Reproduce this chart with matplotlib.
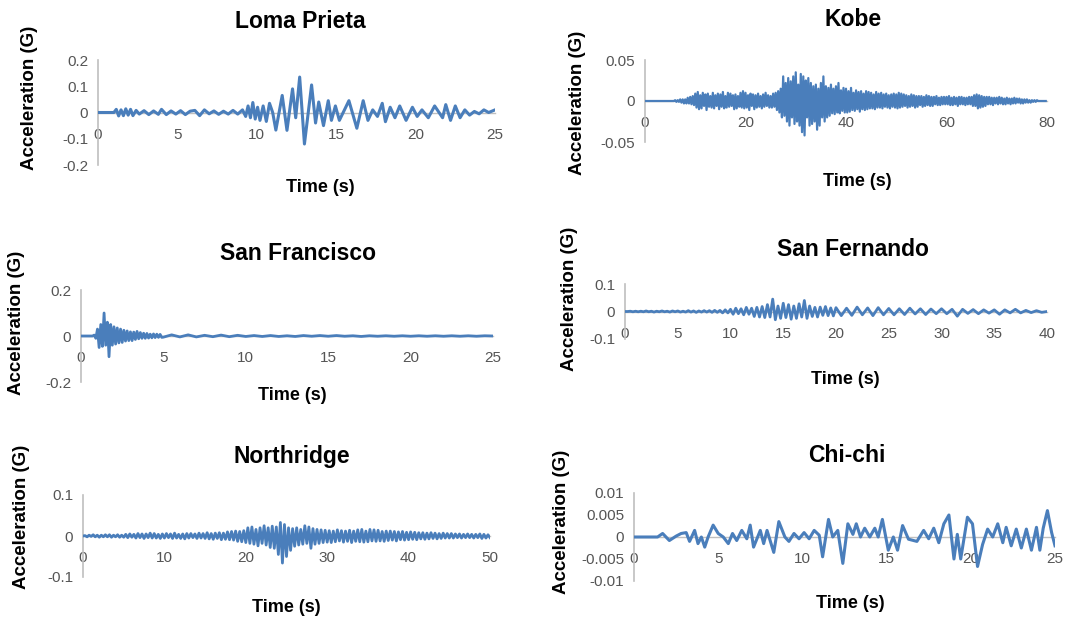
import numpy as np
import matplotlib
matplotlib.use("Agg")
from matplotlib import pyplot as plt

plt.rcParams['font.family'] = ['Liberation Sans', 'DejaVu Sans']

# ---- data (acceleration in G, time in s) ----

loma_t = [0, 1.0, 1.15, 1.3, 1.45, 1.6, 1.75, 1.9, 2.05, 2.2,
          2.4, 2.6, 2.9, 3.2, 3.5, 3.8, 4.0, 4.3, 4.6, 4.9,
          5.2, 5.5, 5.8, 6.1, 6.4, 6.7, 7.0, 7.3, 7.6, 7.9,
          8.2, 8.5, 8.8, 9.1, 9.3, 9.45, 9.6, 9.75, 9.9, 10.05,
          10.2, 10.4, 10.6, 10.8, 11.0, 11.2, 11.6, 11.9, 12.25, 12.45,
          12.7, 13.0, 13.45, 13.7, 13.9, 14.2, 14.5, 14.7, 14.95, 15.2,
          15.8, 16.3, 16.7, 17.0, 17.3, 17.6, 17.9, 18.1, 18.4, 18.7,
          19.0, 19.4, 19.8, 20.1, 20.4, 20.8, 21.2, 21.7, 21.9, 22.2,
          22.5, 22.8, 23.1, 23.4, 23.7, 24.0, 24.3, 24.6, 25.0]
loma_a = [0, 0, 0.012, -0.013, 0.01, -0.012, 0.014, -0.01, 0.012, -0.012,
          0.008, -0.006, 0.007, -0.008, 0.006, -0.007, 0.012, -0.008, 0.006, -0.006,
          0.007, -0.008, 0.005, 0.008, -0.012, 0.01, -0.005, 0.006, -0.007, 0.005,
          -0.006, 0.008, -0.006, 0.01, -0.015, 0.025, -0.02, 0.038, -0.025, 0.02,
          -0.03, 0.025, -0.034, 0.035, 0.0, -0.067, 0.065, -0.068, 0.09, -0.02,
          0.135, -0.12, 0.105, -0.04, 0.04, -0.05, 0.045, -0.03, 0.025, -0.03,
          0.045, -0.06, 0.045, -0.03, 0.01, -0.015, 0.035, -0.035, 0.02, -0.02,
          0.025, -0.03, 0.02, -0.015, 0.01, -0.02, 0.025, -0.02, 0.03, -0.03,
          0.025, -0.02, 0.01, -0.01, 0.004, -0.005, 0.01, 0.0, 0.01]

# Kobe, one value every 0.25 s (rows of 5 s)
kobe_a = [0, 0, 0, 0, 0, 0, 0, 0, 0, 0, 0, 0, 0, 0, 0, 0, 0, 0, 0, 0,
          0, 0, 0, 0, 0.001, -0.001, 0.001, -0.001, 0.002, -0.002,
          0.002, -0.003, 0.002, -0.003, 0.004, -0.003, 0.005, -0.004, 0.006, -0.005,
          0.009, -0.008, 0.011, -0.01, 0.007, -0.009, 0.01, -0.006, 0.008, -0.011,
          0.009, -0.007, 0.006, -0.008, 0.01, -0.009, 0.007, -0.006, 0.009, -0.01,
          0.008, -0.007, 0.011, -0.009, 0.006, -0.008, 0.01, -0.007, 0.009, -0.006,
          0.007, -0.01, 0.008, -0.009, 0.006, -0.007, 0.01, -0.008, 0.012, -0.009,
          0.01, -0.008, 0.007, -0.011, 0.009, -0.006, 0.008, -0.01, 0.007, -0.008,
          0.009, -0.007, 0.006, -0.009, 0.008, -0.007, 0.01, -0.006, 0.007, -0.008,
          0.006, -0.008, 0.009, -0.007, 0.01, -0.011, 0.012, -0.014, 0.015, -0.02,
          0.03, -0.018, 0.022, -0.025, 0.028, -0.03, 0.024, -0.02, 0.03, -0.028,
          0.035, -0.025, 0.02, -0.03, 0.033, -0.038, 0.03, -0.042, 0.025, -0.02,
          0.028, -0.03, 0.022, -0.028, 0.018, -0.025, 0.02, -0.035, 0.015, -0.03,
          0.022, -0.02, 0.03, -0.025, 0.018, -0.02, 0.016, -0.018, 0.02, -0.015,
          0.015, -0.016, 0.018, -0.014, 0.022, -0.015, 0.013, -0.012, 0.016, -0.014,
          0.015, -0.014, 0.012, -0.013, 0.016, -0.011, 0.01, -0.012, 0.013, -0.01,
          0.011, -0.013, 0.012, -0.01, 0.009, -0.011, 0.012, -0.01, 0.011, -0.009,
          0.01, -0.009, 0.008, -0.01, 0.011, -0.008, 0.009, -0.008, 0.01, -0.009,
          0.008, -0.007, 0.009, -0.008, 0.007, -0.009, 0.008, -0.007, 0.009, -0.008,
          0.008, -0.009, 0.01, -0.008, 0.009, -0.007, 0.008, -0.006, 0.007, -0.008,
          0.006, -0.007, 0.008, -0.006, 0.007, -0.008, 0.006, -0.007, 0.006, -0.005,
          0.006, -0.007, 0.005, -0.006, 0.007, -0.005, 0.006, -0.006, 0.005, -0.006,
          0.005, -0.004, 0.006, -0.005, 0.004, -0.005, 0.005, -0.004, 0.005, -0.004,
          0.005, -0.004, 0.006, -0.005, 0.004, -0.005, 0.005, -0.004, 0.004, -0.006,
          0.005, -0.004, 0.005, -0.004, 0.004, -0.005, 0.004, -0.004, 0.005, -0.004,
          0.005, -0.006, 0.007, -0.006, 0.008, -0.009, 0.007, -0.008, 0.006, -0.007,
          0.005, -0.006, 0.005, -0.004, 0.005, -0.004, 0.004, -0.005, 0.004, -0.003,
          0.004, -0.004, 0.005, -0.003, 0.004, -0.004, 0.003, -0.004, 0.004, -0.003,
          0.003, -0.004, 0.003, -0.003, 0.004, -0.003, 0.003, -0.002, 0.003, -0.003,
          0.002, -0.003, 0.002, -0.002, 0.002, -0.002, 0.001, -0.002, 0.001, -0.001,
          0.001, -0.001, 0.001, 0, 0, 0, 0, 0, 0, 0]
kobe_t = np.arange(len(kobe_a)) * 0.25

# San Francisco: 0.1 s steps up to 5 s, then 0.5 s steps
sanfran_t = np.r_[np.arange(0, 5, 0.1), np.arange(5, 25.01, 0.5)]
sanfran_a = [0, 0, 0, 0, 0, 0, 0, 0, 0.004, -0.01,
             0.03, -0.05, 0.05, -0.045, 0.1, -0.04, 0.06, -0.09, 0.05, -0.04,
             0.04, -0.035, 0.035, -0.03, 0.03, -0.028, 0.025, -0.022, 0.022, -0.02,
             0.018, -0.02, 0.017, -0.015, 0.02, -0.012, 0.015, -0.01, 0.012, -0.01,
             0.011, -0.009, 0.008, -0.008, 0.009, -0.007, 0.008, -0.006, 0.007, -0.006,
             -0.005, 0.005, -0.004, 0.005, -0.004, 0.003, -0.003, 0.004, -0.003, 0.003,
             -0.002, 0.002, -0.002, 0.002, -0.002, 0.001, -0.002, 0.002, -0.001, 0.002,
             -0.001, 0.002, -0.001, 0.001, -0.002, 0.001, -0.001, 0.001, -0.001, 0.001,
             -0.001, 0.001, -0.001, 0.001, -0.001, 0.001, -0.001, 0.001, -0.001, 0.001,
             0]

# San Fernando: 0.25 s steps up to 20 s, then 0.5 s steps
fernando_t = np.r_[np.arange(0, 20, 0.25), np.arange(20, 40.01, 0.5)]
fernando_a = [0, 0, 0.001, -0.001, 0.001, -0.001, 0.001, -0.001, 0.002, -0.001,
              0.001, -0.002, 0.001, -0.001, 0.002, -0.001, 0.001, -0.002, 0.002, -0.001,
              0.002, -0.002, 0.001, -0.002, 0.003, -0.002, 0.002, -0.003, 0.002, -0.002,
              0.003, -0.002, 0.003, -0.003, 0.004, -0.003, 0.004, -0.005, 0.006, -0.005,
              0.008, -0.01, 0.012, -0.008, 0.01, -0.012, 0.015, -0.01, 0.012, -0.018,
              0.015, -0.02, 0.018, -0.022, 0.025, -0.02, 0.045, -0.03, 0.02, -0.025,
              0.03, -0.022, 0.025, -0.028, 0.02, -0.025, 0.028, -0.02, 0.04, -0.025,
              0.02, -0.018, 0.015, -0.02, 0.016, -0.014, 0.018, -0.015, 0.013, -0.016,
              0.014, -0.015, 0.012, -0.014, 0.016, -0.012, 0.013, -0.015, 0.014, -0.012,
              0.011, -0.012, 0.01, -0.011, 0.012, -0.009, 0.01, -0.011, 0.009, -0.008,
              0.01, -0.008, 0.008, -0.017, 0.008, -0.007, 0.007, -0.008, 0.006, -0.006,
              0.006, -0.01, 0.006, -0.005, 0.008, -0.005, 0.004, -0.004, 0.003, -0.003,
              0]

# Northridge, one value every 0.25 s (rows of 5 s)
north_a = [0, 0.001, -0.002, 0.002, -0.001, 0.003, -0.002, 0.002, -0.003, 0.002,
           -0.002, 0.003, -0.002, 0.003, -0.003, 0.002, -0.002, 0.003, -0.003, 0.002,
           -0.003, 0.004, -0.004, 0.005, -0.003, 0.004, -0.005, 0.006, -0.004, 0.005,
           -0.006, 0.005, -0.004, 0.007, -0.005, 0.006, -0.005, 0.004, -0.006, 0.005,
           -0.005, 0.006, -0.004, 0.005, -0.006, 0.007, -0.005, 0.004, -0.006, 0.005,
           -0.007, 0.006, -0.005, 0.006, -0.004, 0.005, -0.006, 0.007, -0.005, 0.006,
           -0.006, 0.008, -0.007, 0.006, -0.008, 0.007, -0.006, 0.008, -0.009, 0.007,
           -0.008, 0.01, -0.009, 0.011, -0.01, 0.012, -0.013, 0.011, -0.014, 0.013,
           -0.016, 0.02, -0.018, 0.022, -0.02, 0.016, -0.024, 0.02, -0.018, 0.025,
           -0.022, 0.02, -0.028, 0.024, -0.03, 0.022, -0.045, 0.033, -0.066, 0.028,
           -0.05, 0.02, -0.035, 0.018, -0.025, 0.02, -0.022, 0.016, -0.02, 0.025,
           -0.018, 0.022, -0.03, 0.018, -0.02, 0.016, -0.018, 0.015, -0.016, 0.014,
           -0.015, 0.013, -0.016, 0.012, -0.014, 0.015, -0.012, 0.013, -0.015, 0.012,
           -0.013, 0.014, -0.016, 0.012, -0.013, 0.015, -0.014, 0.016, -0.015, 0.012,
           -0.014, 0.016, -0.012, 0.015, -0.013, 0.014, -0.012, 0.011, -0.013, 0.012,
           -0.011, 0.012, -0.01, 0.011, -0.012, 0.01, -0.009, 0.011, -0.01, 0.009,
           -0.009, 0.01, -0.008, 0.009, -0.009, 0.008, -0.007, 0.008, -0.008, 0.007,
           -0.007, 0.008, -0.006, 0.007, -0.007, 0.006, -0.006, 0.007, -0.005, 0.006,
           -0.005, 0.006, -0.005, 0.005, -0.004, 0.005, -0.005, 0.004, -0.004, 0.005,
           -0.004, 0.004, -0.005, 0.004, -0.004, 0.005, -0.006, 0.004, -0.005, 0.003,
           -0.004]
north_t = np.arange(len(north_a)) * 0.25

chichi_t = [0, 1.4, 1.7, 2.1, 2.5, 2.8, 3.1, 3.3, 3.6, 3.8,
            4.0, 4.2, 4.4, 4.7, 5.0, 5.3, 5.6, 5.85, 6.1, 6.4,
            6.7, 6.9, 7.1, 7.5, 7.7, 7.9, 8.3, 8.6, 8.96, 9.2,
            9.5, 9.8, 10.1, 10.4, 10.7, 11.0, 11.2, 11.55, 11.8, 12.1,
            12.4, 12.7, 13.0, 13.2, 13.45, 13.7, 14.0, 14.3, 14.5, 14.75,
            15.1, 15.4, 15.65, 15.95, 16.3, 16.8, 17.2, 17.5, 17.8, 18.1,
            18.4, 18.7, 19.0, 19.2, 19.4, 19.8, 20.1, 20.4, 20.7, 21.0,
            21.3, 21.6, 21.9, 22.1, 22.4, 22.7, 23.0, 23.3, 23.6, 23.9,
            24.1, 24.3, 24.55, 24.8, 25.0]
chichi_a = [0, 0, 0.0008, -0.0008, 0.0002, 0.0008, 0.001, -0.001, 0.0015, -0.0015,
            0, -0.0023, 0, 0.0027, 0.0008, 0, -0.0015, 0.0008, -0.0008, 0.0015,
            -0.0004, 0.0027, -0.0023, 0.0015, -0.0015, 0.0015, -0.0035, 0.0035, 0, -0.001,
            0.0008, -0.0004, 0.001, -0.0004, 0.0015, 0.0004, -0.0045, 0.004, 0, 0.0015,
            -0.006, 0.003, 0.0006, 0.003, 0, 0.002, 0, 0.002, 0, 0.004,
            -0.003, 0, -0.003, 0.0026, -0.0005, -0.001, 0.0015, -0.0004, 0.002, -0.0013,
            0.003, 0.005, -0.005, 0.0006, -0.005, 0.0045, 0.003, -0.0067, -0.0017, 0.0018,
            0, 0.003, -0.0013, 0.0022, -0.002, 0.0018, -0.0025, 0.0018, -0.003, 0.0022,
            -0.003, 0.002, 0.006, 0.001, -0.002]

titles = ['Loma Prieta', 'Kobe', 'San Francisco', 'San Fernando', 'Northridge', 'Chi-chi']
series = [(loma_t, loma_a), (kobe_t, kobe_a), (sanfran_t, sanfran_a),
          (fernando_t, fernando_a), (north_t, north_a), (chichi_t, chichi_a)]
x_ticks = [[0, 5, 10, 15, 20, 25], [0, 20, 40, 60, 80], [0, 5, 10, 15, 20, 25],
           [0, 5, 10, 15, 20, 25, 30, 35, 40], [0, 10, 20, 30, 40, 50],
           [0, 5, 10, 15, 20, 25]]
y_ticks = [[-0.2, -0.1, 0, 0.1, 0.2], [-0.05, 0, 0.05], [-0.2, 0, 0.2],
           [-0.1, 0, 0.1], [-0.1, 0, 0.1], [-0.01, -0.005, 0, 0.005, 0.01]]
y_labels = [['-0.2', '-0.1', '0', '0.1', '0.2'], ['-0.05', '0', '0.05'],
            ['-0.2', '0', '0.2'], ['-0.1', '0', '0.1'], ['-0.1', '0', '0.1'],
            ['-0.01', '-0.005', '0', '0.005', '0.01']]

# ---- layout (pixels in a 1084 x 621 canvas) ----
W, H = 1084, 621
# plot box: x of t=0, x of t=max, y of top tick, y of bottom tick
boxes = [(98, 495, 60, 165), (645, 1047, 60, 142), (81, 493, 290, 382),
         (625, 1047, 284, 339), (83, 490, 495, 577), (634, 1055, 493, 581)]
title_pos = [(300, 22), (853, 20), (298, 253), (853, 250), (292, 457), (847, 456)]
xlabel_pos = [(320, 187), (857, 181), (292, 395), (845, 380), (286, 608), (850, 604)]
ylabel_pos = [(30, 98), (578, 103), (17, 323), (569, 299), (22, 517), (562, 522)]
widths = [2.2, 1.6, 2.0, 2.0, 2.0, 2.2]

BLUE = '#4A7EBB'
GRID = '#BFBFBF'
TICK = '#555555'

fig = plt.figure(figsize=(W / 100, H / 100), dpi=100)


def fx(x):
    return x / W


def fy(y):
    return 1 - y / H


for i in range(6):
    x0, x1, yt, yb = boxes[i]
    ax = fig.add_axes([fx(x0), fy(yb), fx(x1 - x0), (yb - yt) / H])
    t, a = series[i]
    ax.plot(t, a, color=BLUE, lw=widths[i], solid_joinstyle='round', zorder=3)

    ax.set_xlim(0, x_ticks[i][-1])
    ax.set_ylim(y_ticks[i][0], y_ticks[i][-1])
    ax.set_xticks(x_ticks[i])
    ax.set_yticks(y_ticks[i])
    ax.set_yticklabels(y_labels[i])

    ax.patch.set_alpha(0)
    for s in ['top', 'right']:
        ax.spines[s].set_visible(False)
    ax.spines['bottom'].set_position(('data', 0))
    ax.spines['bottom'].set_color(GRID)
    ax.spines['left'].set_color(GRID)
    ax.spines['bottom'].set_linewidth(1.0)
    ax.spines['left'].set_linewidth(1.2)
    ax.tick_params(axis='x', length=0, pad=11, labelsize=11, labelcolor=TICK)
    ax.tick_params(axis='y', length=0, pad=7, labelsize=11, labelcolor=TICK)

    fig.text(fx(title_pos[i][0]), fy(title_pos[i][1]), titles[i], fontsize=16.5,
             fontweight='bold', ha='center', va='center')
    fig.text(fx(xlabel_pos[i][0]), fy(xlabel_pos[i][1]), 'Time (s)', fontsize=13,
             fontweight='bold', ha='center', va='center')
    fig.text(fx(ylabel_pos[i][0]), fy(ylabel_pos[i][1]), 'Acceleration (G)',
             fontsize=13.5, fontweight='bold', ha='center', va='center',
             rotation=90)

fig.savefig('out.png', dpi=100)
